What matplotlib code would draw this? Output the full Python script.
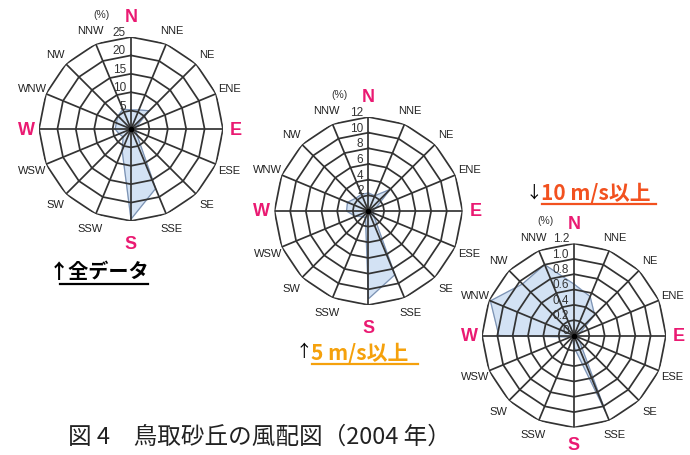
import numpy as np
import matplotlib
matplotlib.use("Agg")
import matplotlib.pyplot as plt
from matplotlib.lines import Line2D

plt.rcParams['font.family'] = ['Liberation Sans', 'DejaVu Sans']

# ---------------- data ----------------
directions = ['N', 'NNE', 'NE', 'ENE', 'E', 'ESE', 'SE', 'SSE',
              'S', 'SSW', 'SW', 'WSW', 'W', 'WNW', 'NW', 'NNW']
all_data = [5.2, 5.6, 7.0, 1.5, 1.0, 1.5, 2.3, 17.5,
            24.5, 6.3, 3.0, 3.5, 4.3, 4.3, 5.0, 5.8]
over5 = [2.3, 2.1, 3.9, 1.0, 0.5, 0.7, 1.0, 8.8,
         11.2, 1.0, 1.0, 1.8, 2.8, 2.9, 2.3, 2.3]
over10 = [0.67, 0.55, 0.38, 0.08, 0.05, 0.05, 0.1, 1.07,
          0.15, 0.05, 0.03, 0.05, 0.98, 1.18, 0.95, 1.0]
rings1 = [5, 10, 15, 20, 25]
rings2 = [2, 4, 6, 8, 10, 12]
rings3 = [0.2, 0.4, 0.6, 0.8, 1.0, 1.2]
ringlab1 = ['5', '10', '15', '20', '25']
ringlab2 = ['2', '4', '6', '8', '10', '12']
ringlab3 = ['0', '0.2', '0.4', '0.6', '0.8', '1.0', '1.2']
titles = ['↑全データ', '5 m/s以上', '10 m/s以上']
caption = '図 4　鳥取砂丘の風配図（2004 年）'

W, H = 690, 456
fig = plt.figure(figsize=(W / 100, H / 100), dpi=100)
fig.patch.set_facecolor('white')

PINK = '#ea1a72'
GRID = '#333333'
FILL = '#d3e2f4'
EDGE = '#7d93b3'
CJK = ['Noto Sans CJK JP', 'DejaVu Sans']


def fx(x):
    return x / W


def fy(y):
    return 1 - y / H


def rose(cx, cy, R, values, rings, ringlabels, zero_label, s_fac=1.24):
    rmax = rings[-1]
    ax = fig.add_axes([fx(cx - R), fy(cy + R), 2 * R / W, 2 * R / H],
                      projection='polar')
    ax.set_theta_zero_location('N')
    ax.set_theta_direction(-1)
    ax.set_ylim(0, rmax)
    ax.grid(False)
    ax.set_xticks([])
    ax.set_yticks([])
    ax.spines['polar'].set_visible(False)
    ax.patch.set_alpha(0)
    theta = np.deg2rad(np.arange(16) * 22.5)
    tc = np.append(theta, theta[0])
    vc = np.append(values, values[0])
    ax.fill(tc, vc, color=FILL, zorder=1)
    ax.plot(tc, vc, color=EDGE, lw=0.9, zorder=1.5)
    for v in rings:
        ax.plot(tc, [v] * 17, color=GRID, lw=1.25, zorder=2)
    for t in theta:
        ax.plot([t, t], [0, rmax], color=GRID, lw=1.25, zorder=2)
    ax.plot([0], [0], 'o', color='black', ms=3, zorder=3)
    # direction labels
    for t, d in zip(theta, directions):
        if d in ('N', 'S'):
            f = 1.22 if d == 'N' else s_fac
            ax.text(t, rmax * f, d, color=PINK, fontsize=13, fontweight='bold',
                    ha='center', va='center', clip_on=False)
        elif d in ('E', 'W'):
            ax.text(t, rmax * 1.14, d, color=PINK, fontsize=13, fontweight='bold',
                    ha='center', va='center', clip_on=False)
        else:
            ax.text(t, rmax * 1.16, d, color='#222222', fontsize=8,
                    ha='center', va='center', clip_on=False)
    # ring labels
    vals = list(rings)
    if zero_label:
        vals = [0] + vals
    for v, s in zip(vals, ringlabels):
        ax.annotate(s, xy=(0, v), xytext=(-5, 5), textcoords='offset pixels',
                    ha='right', va='center', fontsize=8.5, color='#333333')
    ax.annotate('(%)', xy=(0, rmax), xytext=(-29, 23), textcoords='offset pixels',
                ha='center', va='center', fontsize=7.5, color='#333333')
    return ax


rose(131, 130, 92, all_data, rings1, ringlab1, False)
rose(368.5, 212, 94, over5, rings2, ringlab2, False)
rose(574, 336.5, 92, over10, rings3, ringlab3, True, s_fac=1.19)

# titles
fig.text(fx(49), fy(272), titles[0], fontsize=14.5, fontweight='bold',
         family=CJK, color='black', ha='left', va='center')
fig.add_artist(Line2D([fx(60), fx(148)], [fy(284.5), fy(284.5)],
                      color='black', lw=1.6))

fig.text(fx(296), fy(353), '↑', fontsize=12, family=CJK, color='black',
         ha='left', va='center')
fig.text(fx(311), fy(353), titles[1], fontsize=15, fontweight='bold',
         family=CJK, color='#f5a10c', ha='left', va='center')
fig.add_artist(Line2D([fx(312), fx(418)], [fy(365), fy(365)],
                      color='#f5a10c', lw=1.6))

fig.text(fx(526), fy(193), '↓', fontsize=12, family=CJK, color='black',
         ha='left', va='center')
fig.text(fx(541), fy(193), titles[2], fontsize=15, fontweight='bold',
         family=CJK, color='#f2511f', ha='left', va='center')
fig.add_artist(Line2D([fx(542), fx(656)], [fy(205), fy(205)],
                      color='#f2511f', lw=1.6))

fig.text(fx(68), fy(437), caption, fontsize=17, family=CJK, color='#222222',
         ha='left', va='center')

fig.savefig('out.png', dpi=100)
